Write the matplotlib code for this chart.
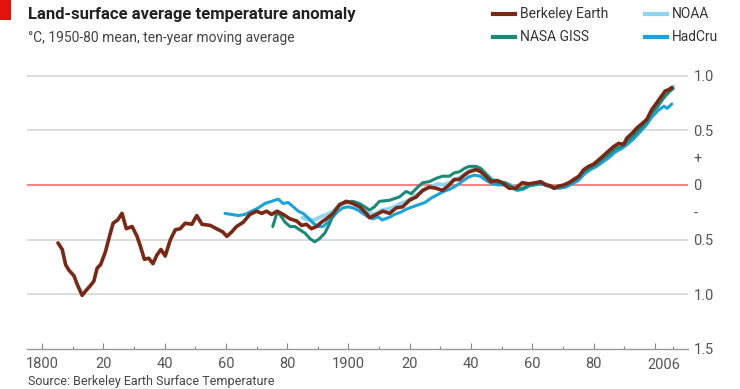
import matplotlib
matplotlib.use('Agg')
import matplotlib.pyplot as plt
from matplotlib.lines import Line2D
from matplotlib.patches import Rectangle
from matplotlib.ticker import FixedLocator

# Berkeley Earth, ten-year moving average (one row = 5 readings)
be_year = [1805.2, 1806.6, 1807.7, 1808.8, 1810.4,
           1811.5, 1813.1, 1814.2, 1815.8, 1816.9,
           1818.0, 1819.1, 1820.7, 1822.3, 1823.2,
           1824.7, 1826.1, 1827.5, 1829.4, 1831.0,
           1832.1, 1833.4, 1834.8, 1836.2, 1837.5,
           1838.8, 1840.2, 1841.9, 1843.5, 1845.1,
           1846.7, 1848.9, 1850.5, 1852.2, 1854.9,
           1857.6, 1859.0, 1860.3, 1861.9, 1863.5,
           1865.7, 1867.8, 1870.0, 1871.7, 1873.3,
           1874.9, 1876.7, 1878.7, 1880.9, 1883.1,
           1884.7, 1886.3, 1887.9, 1889.6, 1891.2,
           1892.8, 1895.0, 1897.1, 1899.3, 1901.5,
           1903.7, 1905.8, 1906.9, 1909.1, 1911.2,
           1913.4, 1915.6, 1917.7, 1919.9, 1922.1,
           1924.2, 1926.4, 1928.6, 1930.7, 1932.9,
           1934.5, 1936.2, 1937.8, 1939.4, 1941.6,
           1943.2, 1944.8, 1946.5, 1948.6, 1950.2,
           1952.4, 1954.6, 1956.7, 1958.9, 1961.1,
           1962.7, 1964.4, 1966.0, 1967.1, 1968.7,
           1970.3, 1971.9, 1973.5, 1975.2, 1976.8,
           1978.4, 1980.0, 1981.7, 1983.3, 1984.9,
           1986.5, 1988.2, 1989.8, 1990.9, 1992.5,
           1994.1, 1995.8, 1997.4, 1999.0, 2000.6,
           2002.1, 2003.4, 2004.5, 2005.5]
be_val = [-0.53, -0.59, -0.73, -0.78, -0.83,
          -0.91, -1.01, -0.97, -0.92, -0.88,
          -0.76, -0.73, -0.61, -0.44, -0.35,
          -0.32, -0.26, -0.40, -0.38, -0.47,
          -0.56, -0.68, -0.67, -0.72, -0.64,
          -0.59, -0.65, -0.50, -0.41, -0.40,
          -0.35, -0.36, -0.28, -0.36, -0.37,
          -0.41, -0.43, -0.47, -0.43, -0.38,
          -0.34, -0.27, -0.24, -0.26, -0.24,
          -0.27, -0.24, -0.27, -0.31, -0.33,
          -0.37, -0.36, -0.40, -0.38, -0.34,
          -0.31, -0.26, -0.18, -0.15, -0.17,
          -0.20, -0.26, -0.30, -0.27, -0.24,
          -0.26, -0.21, -0.20, -0.14, -0.11,
          -0.05, -0.02, -0.03, -0.05, 0.00,
          0.05, 0.05, 0.09, 0.12, 0.14,
          0.12, 0.08, 0.03, 0.04, 0.02,
          -0.03, -0.03, 0.02, 0.01, 0.02,
          0.03, 0.00, -0.01, -0.03, -0.01,
          0.00, 0.02, 0.05, 0.08, 0.14,
          0.17, 0.19, 0.23, 0.27, 0.31,
          0.35, 0.38, 0.37, 0.43, 0.47,
          0.52, 0.56, 0.60, 0.69, 0.75,
          0.81, 0.86, 0.87, 0.89]

# NASA GISS
giss_year = [1875.3, 1876.6, 1877.6, 1879.3, 1880.9, 1882.5, 1884.1, 1885.8, 1887.4, 1889.0,
             1890.6, 1892.3, 1893.9, 1895.5, 1897.1, 1899.3, 1901.5, 1903.6, 1905.3, 1906.9,
             1908.5, 1910.1, 1913.4, 1916.6, 1918.8, 1920.5, 1922.6, 1924.2, 1926.4, 1928.6,
             1930.7, 1932.9, 1934.5, 1936.2, 1937.8, 1939.4, 1941.6, 1943.2, 1944.8, 1946.5,
             1949, 1951, 1953, 1955, 1957, 1959, 1961, 1963, 1965, 1967,
             1969, 1971, 1973, 1975, 1977, 1979, 1981, 1983, 1985, 1987,
             1989, 1991, 1993, 1995, 1997, 1999, 2001, 2003, 2005, 2006]
giss_val = [-0.38, -0.26, -0.27, -0.34, -0.38, -0.38, -0.41, -0.44, -0.49, -0.52,
            -0.49, -0.44, -0.35, -0.24, -0.18, -0.16, -0.15, -0.17, -0.20, -0.23,
            -0.20, -0.15, -0.14, -0.11, -0.06, -0.08, -0.02, 0.02, 0.03, 0.06,
            0.08, 0.08, 0.11, 0.12, 0.15, 0.17, 0.17, 0.15, 0.10, 0.05,
            0.02, 0.02, -0.01, -0.04, -0.03, 0.00, 0.01, 0.02, 0.00, -0.02,
            -0.02, 0.00, 0.03, 0.07, 0.13, 0.16, 0.19, 0.24, 0.28, 0.33,
            0.35, 0.40, 0.45, 0.51, 0.57, 0.66, 0.72, 0.80, 0.86, 0.88]

# NOAA
noaa_year = [1885, 1887, 1889, 1891, 1893, 1895, 1897, 1899, 1901, 1903,
             1905, 1907, 1909, 1911, 1913, 1915, 1917, 1919, 1921, 1923,
             1925, 1927, 1929, 1931, 1933, 1935, 1937, 1939, 1941, 1943,
             1945, 1947, 1949, 1951, 1953, 1955, 1957, 1959, 1961, 1963,
             1965, 1967, 1969, 1971, 1973, 1975, 1977, 1979, 1981, 1983,
             1985, 1987, 1989, 1991, 1993, 1995, 1997, 1999, 2001, 2003,
             2005, 2006]
noaa_val = [-0.30, -0.32, -0.32, -0.29, -0.27, -0.24, -0.19, -0.16, -0.16, -0.19,
            -0.23, -0.27, -0.26, -0.23, -0.22, -0.20, -0.17, -0.15, -0.11, -0.08,
            -0.04, -0.02, 0.01, 0.00, 0.02, 0.05, 0.08, 0.12, 0.15, 0.15,
            0.10, 0.05, 0.03, 0.02, 0.00, -0.04, -0.03, 0.00, 0.01, 0.02,
            0.00, -0.02, -0.02, 0.00, 0.03, 0.06, 0.12, 0.16, 0.19, 0.24,
            0.28, 0.33, 0.35, 0.40, 0.45, 0.52, 0.58, 0.67, 0.74, 0.82,
            0.88, 0.90]

# HadCru
had_year = [1859.7, 1861.9, 1864.1, 1866.2, 1868.4, 1870.6, 1872.7, 1874.9, 1877.1, 1878.7,
            1880.3, 1882.0, 1883.6, 1885.2, 1886.8, 1888.5, 1890.1, 1891.7, 1893.3, 1895.0,
            1896.6, 1898.2, 1899.8, 1901.5, 1903.1, 1904.7, 1906.3, 1908.0, 1909.6, 1911,
            1913, 1915, 1917, 1919, 1921, 1923, 1925, 1927, 1929, 1931,
            1933, 1935, 1937, 1939, 1941, 1943, 1945, 1947, 1949, 1951,
            1953, 1955, 1957, 1959, 1961, 1963, 1965, 1967, 1969, 1971,
            1973, 1975, 1977, 1979, 1981, 1983, 1985, 1987, 1989, 1991,
            1993, 1995, 1997, 1999, 2001, 2003, 2004, 2005.5]
had_val = [-0.26, -0.27, -0.28, -0.27, -0.24, -0.21, -0.17, -0.15, -0.13, -0.17,
           -0.16, -0.20, -0.24, -0.26, -0.30, -0.35, -0.38, -0.38, -0.34, -0.29,
           -0.24, -0.21, -0.20, -0.21, -0.23, -0.26, -0.29, -0.31, -0.29, -0.32,
           -0.30, -0.27, -0.25, -0.22, -0.20, -0.18, -0.16, -0.12, -0.09, -0.06,
           -0.04, -0.01, 0.03, 0.07, 0.09, 0.08, 0.04, 0.01, 0.00, 0.00,
           -0.02, -0.05, -0.04, -0.01, 0.00, 0.01, -0.01, -0.03, -0.03, -0.02,
           0.01, 0.04, 0.10, 0.14, 0.17, 0.21, 0.25, 0.30, 0.33, 0.37,
           0.42, 0.48, 0.54, 0.62, 0.68, 0.72, 0.70, 0.74]

yticks = [1.0, 0.5, 0.25, 0, -0.25, -0.5, -1.0, -1.5]
ylabels = ['1.0', '0.5', '+', '0', '-', '0.5', '1.0', '1.5']
xmajor = [1800, 1820, 1840, 1860, 1880, 1900, 1920, 1940, 1960, 1980, 2000]
xlabels = ['1800', '20', '40', '60', '80', '1900', '20', '40', '60', '80', '']

c_be = '#7a2813'
c_giss = '#1a8a78'
c_noaa = '#8fd4f2'
c_had = '#1aa2dc'
grey = '#555555'

plt.rcParams['font.family'] = ['Roboto', 'DejaVu Sans']

fig = plt.figure(figsize=(7.4, 3.89), dpi=100)
ax = fig.add_axes([26.7 / 740, 1 - 349 / 389, (688 - 26.7) / 740, (349 - 62) / 389])

ax.set_xlim(1795, 2010.8)
ax.set_ylim(-1.5, 1.124)

for g in [1.0, 0.5, -0.5, -1.0]:
    ax.axhline(g, color='#d9d9d9', lw=1.3, zorder=1)
ax.axhline(0, color='#f07a7a', lw=1.3, zorder=1)

ax.plot(noaa_year, noaa_val, color=c_noaa, lw=2.8, zorder=2, solid_capstyle='round')
ax.plot(had_year, had_val, color=c_had, lw=2.2, zorder=3, solid_capstyle='round')
ax.plot(giss_year, giss_val, color=c_giss, lw=2.2, zorder=4, solid_capstyle='round')
ax.plot(be_year, be_val, color=c_be, lw=2.6, zorder=5, solid_capstyle='round')

for s in ['top', 'left', 'right']:
    ax.spines[s].set_visible(False)
ax.spines['bottom'].set_color('#999999')
ax.spines['bottom'].set_linewidth(1.0)

ax.xaxis.set_major_locator(FixedLocator(xmajor))
ax.xaxis.set_minor_locator(FixedLocator(list(range(1810, 2000, 20)) + [2006]))
ax.set_xticklabels(xlabels)
ax.tick_params(axis='x', which='major', direction='in', length=4.5, width=0.8, color='#888888',
               labelsize=10.5, labelcolor=grey, pad=6)
ax.tick_params(axis='x', which='minor', direction='in', length=2.2, width=0.8, color='#888888')
ax.text(2003, -0.03, '2006', transform=ax.get_xaxis_transform(), ha='center', va='top',
        fontsize=10.5, color=grey)

ax.yaxis.tick_right()
ax.set_yticks(yticks)
ax.set_yticklabels(ylabels)
ax.tick_params(axis='y', length=0, labelsize=10.5, labelcolor=grey, pad=4)

# header
fig.add_artist(Rectangle((0, 1 - 20 / 389), 11 / 740, 20 / 389, transform=fig.transFigure,
                         color='#e3120b', lw=0))
fig.text(28 / 740, 1 - 14 / 389, 'Land-surface average temperature anomaly', fontsize=12,
         fontweight='bold', color='#222222', va='center', ha='left')
fig.text(28 / 740, 1 - 38 / 389, '°C, 1950-80 mean, ten-year moving average', fontsize=10,
         color='#444444', va='center', ha='left')
fig.text(28 / 740, 1 - 388 / 389, 'Source: Berkeley Earth Surface Temperature', fontsize=9,
         color='#444444', va='bottom', ha='left')

# legend
leg = [('Berkeley Earth', c_be, 493, 14), ('NASA GISS', c_giss, 493, 37),
       ('NOAA', c_noaa, 645, 14), ('HadCru', c_had, 645, 37)]
for name, col, lx, ly in leg:
    yy = 1 - ly / 389
    fig.add_artist(Line2D([lx / 740, (lx + 22) / 740], [yy, yy], color=col, lw=3,
                          transform=fig.transFigure))
    fig.text((lx + 27) / 740, yy, name, fontsize=10, color='#333333', va='center', ha='left')

fig.savefig('out.png', dpi=100, facecolor='white')
